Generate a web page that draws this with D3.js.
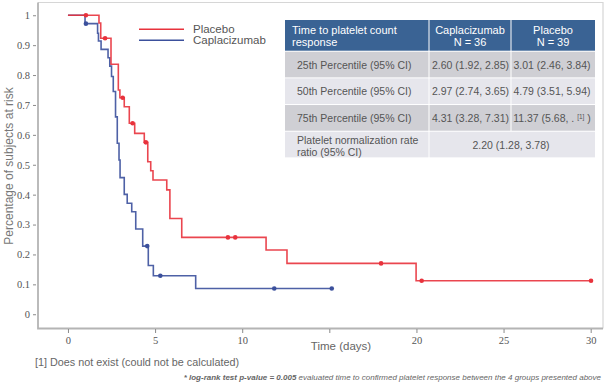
<!DOCTYPE html>
<html>
<head>
<meta charset="utf-8">
<script src="https://cdn.jsdelivr.net/npm/d3@7"></script>
<style>
  html, body { margin: 0; padding: 0; background: #ffffff; }
  svg { display: block; background: #ffffff; }
</style>
</head>
<body>
<div id="chart"></div>
<script>
// step curves (time in days, proportion at risk)
var placeboTime = [0, 1.78, 1.88, 2.47, 2.89, 2.98, 3.23, 3.52, 3.83, 4.38, 4.58, 4.75, 4.88, 5.67, 5.85, 6.53, 11.37, 12.57, 19.98, 30.02];
var placeboSurv = [1, 0.974, 0.923, 0.836, 0.75, 0.724, 0.694, 0.639, 0.605, 0.575, 0.51, 0.48, 0.449, 0.416, 0.32, 0.257, 0.215, 0.17, 0.112, 0.112];
var placeboCensorTime = [1.03, 2.13, 3.14, 3.71, 4.47, 9.18, 9.6, 17.97, 20.3, 30.02];
var placeboCensorSurv = [1, 0.923, 0.724, 0.639, 0.575, 0.257, 0.257, 0.17, 0.112, 0.112];

var caplaTime = [0, 0.98, 1.7, 1.75, 1.9, 2.3, 2.4, 2.5, 2.6, 2.73, 2.83, 2.93, 2.99, 3.23, 3.4, 3.66, 3.89, 4.29, 4.61, 4.9, 7.33, 15.14];
var caplaSurv = [1, 0.972, 0.94, 0.914, 0.886, 0.858, 0.83, 0.795, 0.745, 0.66, 0.572, 0.516, 0.457, 0.401, 0.371, 0.343, 0.285, 0.228, 0.163, 0.129, 0.086, 0.086];
var caplaCensorTime = [1.03, 4.55, 5.3, 11.84, 15.14];
var caplaCensorSurv = [0.972, 0.228, 0.129, 0.086, 0.086];

var xTicks = [0, 5, 10, 15, 20, 25, 30];
var xTickLabels = ['0', '5', '10', '', '20', '25', '30']; // 15 sits under the axis title
var yTicks = [0, 0.1, 0.2, 0.3, 0.4, 0.5, 0.6, 0.7, 0.8, 0.9, 1];

// summary table
var tableHead = [["Time to platelet count", "response"], ["Caplacizumab", "N = 36"], ["Placebo", "N = 39"]];
var rowLabels = [["25th Percentile (95% CI)"], ["50th Percentile (95% CI)"], ["75th Percentile (95% CI)"], ["Platelet normalization rate", "ratio (95% CI)"]];
var caplaValues = ["2.60 (1.92, 2.85)", "2.97 (2.74, 3.65)", "4.31 (3.28, 7.31)"];
var placeboValues = ["3.01 (2.46, 3.84)", "4.79 (3.51, 5.94)", "11.37 (5.68, . ^[1]^ )"];
var rateRatio = "2.20 (1.28, 3.78)";

var width = 605, height = 385;
var red = '#e8323c', blue = '#3b509c';

var svg = d3.select('#chart').append('svg')
  .attr('width', width)
  .attr('height', height);

var x = d3.scaleLinear().domain([-1.72, 30.65]).range([38, 602]);
var y = d3.scaleLinear().domain([-0.047, 1.042]).range([328.3, 2.7]);

// plot box outline
svg.append('path')
  .attr('d', 'M38,2.5H603V328.5')
  .style('fill', 'none').style('stroke', '#d6d6d6').style('stroke-width', 1.2);
svg.append('path')
  .attr('d', 'M38,2.5V328.5H603')
  .style('fill', 'none').style('stroke', '#b4b4b4').style('stroke-width', 1.8);

// axes
var xAxis = svg.append('g')
  .attr('transform', 'translate(0,329)')
  .call(d3.axisBottom(x).tickValues(xTicks).tickSizeInner(4).tickSizeOuter(0).tickPadding(4)
    .tickFormat(function(d, i){ return xTickLabels[i]; }));
var yAxis = svg.append('g')
  .attr('transform', 'translate(36,0)')
  .call(d3.axisLeft(y).tickValues(yTicks).tickSizeInner(3).tickSizeOuter(0).tickPadding(3)
    .tickFormat(function(d){ return String(+d.toFixed(1)); }));

[xAxis, yAxis].forEach(function(g){
  g.select('.domain').remove();
  g.selectAll('.tick line').attr('stroke', '#8a8a8a');
  g.selectAll('.tick text')
    .attr('fill', '#555')
    .style('font-family', '"Liberation Serif", serif')
    .style('font-size', '10.5px');
});

// curves
var stepLine = d3.line()
  .x(function(d){ return x(d[0]); })
  .y(function(d){ return y(d[1]); })
  .curve(d3.curveStepAfter);

var curves = [
  { t: caplaTime, s: caplaSurv, ct: caplaCensorTime, cs: caplaCensorSurv, color: blue },
  { t: placeboTime, s: placeboSurv, ct: placeboCensorTime, cs: placeboCensorSurv, color: red }
];

curves.forEach(function(c){
  var pts = c.t.map(function(t, i){ return [t, c.s[i]]; });
  svg.append('path')
    .datum(pts)
    .attr('d', stepLine)
    .style('fill', 'none')
    .style('stroke', c.color)
    .style('stroke-width', 1.6)
    .style('stroke-opacity', 0.9);
  svg.selectAll(null)
    .data(c.ct.map(function(t, i){ return [t, c.cs[i]]; }))
    .enter()
    .append('circle')
    .attr('cx', function(d){ return x(d[0]); })
    .attr('cy', function(d){ return y(d[1]); })
    .attr('r', 2.3)
    .style('fill', c.color);
});

// legend
var legend = [{ name: 'Placebo', color: red }, { name: 'Caplacizumab', color: blue }];
var lg = svg.selectAll('.legend')
  .data(legend)
  .enter()
  .append('g')
  .attr('transform', function(d, i){ return 'translate(139,' + (29.3 + i * 11) + ')'; });
lg.append('line').attr('x1', 0).attr('x2', 45)
  .style('stroke', function(d){ return d.color; }).style('stroke-width', 1.5);
lg.append('text').attr('x', 54).attr('y', 4)
  .text(function(d){ return d.name; })
  .style('fill', '#555')
  .style('font-family', '"Liberation Sans", Arial, sans-serif')
  .style('font-size', '11.5px');

// axis titles
svg.append('text')
  .attr('transform', 'translate(13,166) rotate(-90)')
  .attr('text-anchor', 'middle')
  .style('fill', '#777')
  .style('font-family', '"Liberation Sans", Arial, sans-serif')
  .style('font-size', '12px')
  .text('Percentage of subjects at risk');
svg.append('text')
  .attr('x', 341).attr('y', 350)
  .attr('text-anchor', 'middle')
  .style('fill', '#666')
  .style('font-family', '"Liberation Sans", Arial, sans-serif')
  .style('font-size', '11.5px')
  .text('Time (days)');

// footnotes
svg.append('text')
  .attr('x', 35).attr('y', 365.5)
  .style('fill', '#666')
  .style('font-family', '"Liberation Sans", Arial, sans-serif')
  .style('font-size', '10.8px')
  .text('[1] Does not exist (could not be calculated)');
var note = svg.append('text')
  .attr('x', 601).attr('y', 380)
  .attr('text-anchor', 'end')
  .style('fill', '#666')
  .style('font-family', '"Liberation Sans", Arial, sans-serif')
  .style('font-size', '8px')
  .style('font-style', 'italic');
note.append('tspan').style('font-weight', 'bold').text('* log-rank test p-value = 0.005');
note.append('tspan').text(' evaluated time to confirmed platelet response between the 4 groups presented above');

// table
var colX = [285, 429, 511, 595];
var headTop = 20, headBottom = 50.7, rowH = 26.67, rowTop = 51.7;
var tbl = svg.append('g').style('font-family', '"Liberation Sans", Arial, sans-serif');

tableHead.forEach(function(h, j){
  tbl.append('rect')
    .attr('x', colX[j] + (j ? 0.5 : 0)).attr('y', headTop)
    .attr('width', colX[j + 1] - colX[j] - (j ? 0.5 : 0) - (j < 2 ? 0.5 : 0))
    .attr('height', headBottom - headTop)
    .style('fill', '#3a6394');
  var t = tbl.append('text')
    .style('fill', '#fff')
    .style('font-size', '11px')
    .attr('text-anchor', j ? 'middle' : 'start');
  h.forEach(function(s, k){
    t.append('tspan')
      .attr('x', j ? (colX[j] + colX[j + 1]) / 2 : 292)
      .attr('y', 33.5 + k * 12.5)
      .text(s);
  });
});

var rowFill = ['#cfcfd4', '#e6e6ec', '#cfcfd4', '#e6e6ec'];

// writes a cell value centred on cx; text between ^ marks is set as a superscript
function cellValue(str, cx, baseY){
  var parts = str.split('^');
  var g = tbl.append('g');
  var cursor = 0;
  parts.forEach(function(part, k){
    var sup = k % 2 === 1;
    var t = g.append('text')
      .attr('x', cursor)
      .attr('y', baseY - (sup ? 3.5 : 0))
      .style('fill', '#555')
      .style('font-size', sup ? '6.5px' : '10.5px')
      .style('white-space', 'pre')
      .attr('xml:space', 'preserve')
      .text(part);
    cursor += t.node().getComputedTextLength();
  });
  g.attr('transform', 'translate(' + (cx - cursor / 2) + ',0)');
}

rowLabels.forEach(function(lbl, i){
  var top = rowTop + i * rowH;
  var cells = i < 3 ? [[0, 1], [1, 2], [2, 3]] : [[0, 1], [1, 3]];
  cells.forEach(function(c){
    tbl.append('rect')
      .attr('x', colX[c[0]] + (c[0] ? 0.5 : 0)).attr('y', top)
      .attr('width', colX[c[1]] - colX[c[0]] - (c[0] ? 0.5 : 0) - (c[1] < 3 ? 0.5 : 0))
      .attr('height', rowH - 1)
      .style('fill', rowFill[i]);
  });
  var t = tbl.append('text').style('fill', '#555').style('font-size', '10.5px');
  lbl.forEach(function(s, k){
    var yy = lbl.length > 1 ? top + 12.5 + k * 12 : top + 17;
    t.append('tspan').attr('x', 297).attr('y', yy).text(s);
  });
  if (i < 3) {
    cellValue(caplaValues[i], 470.5, top + 17);
    cellValue(placeboValues[i], 552, top + 17);
  } else {
    cellValue(rateRatio, 511, top + 17);
  }
});
</script>
</body>
</html>
